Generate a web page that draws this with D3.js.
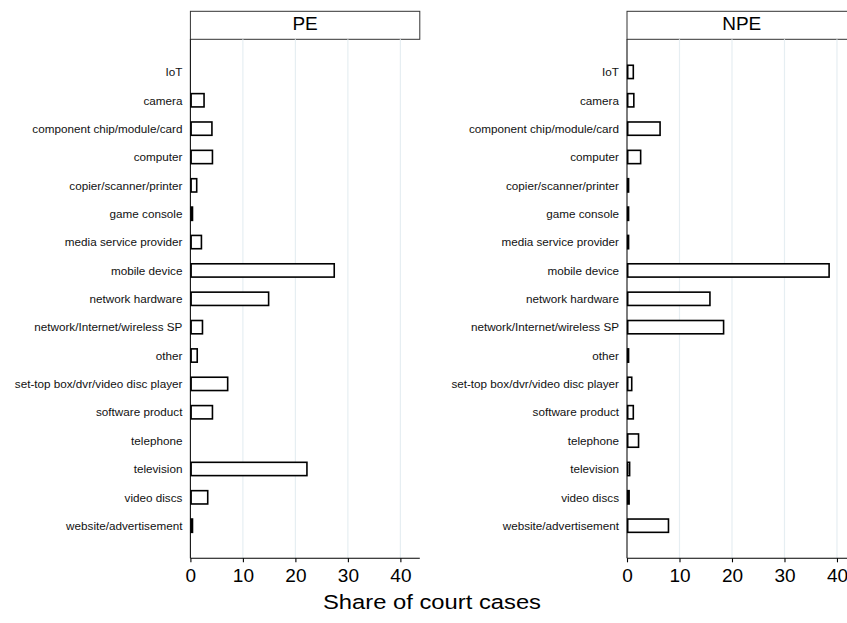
<!DOCTYPE html>
<html>
<head>
<meta charset="utf-8">
<script src="https://cdn.jsdelivr.net/npm/d3@7"></script>
<style>
  html, body { margin: 0; padding: 0; background: #fff; }
  svg { display: block; font-family: "Liberation Sans", Arial, sans-serif; }
</style>
</head>
<body>
<svg id="chart" width="847" height="623"></svg>
<script>
// Product categories (shared by both panels)
const categories = [
  "IoT", "camera", "component chip/module/card", "computer",
  "copier/scanner/printer", "game console", "media service provider",
  "mobile device", "network hardware", "network/Internet/wireless SP",
  "other", "set-top box/dvr/video disc player", "software product",
  "telephone", "television", "video discs", "website/advertisement"
];

// Share of court cases (%), practising entities
const peValues = [0, 2.6, 4.1, 4.2, 1.2, 0.4, 2.1, 27.4, 14.9, 2.3, 1.3, 7.1, 4.2, 0, 22.2, 3.3, 0.4];

// Share of court cases (%), non-practising entities
const npeValues = [1.2, 1.3, 6.3, 2.6, 0.3, 0.3, 0.3, 38.5, 15.8, 18.4, 0.3, 0.9, 1.2, 2.2, 0.5, 0.4, 7.9];

const panelTitles = ["PE", "NPE"];
const xTicks = [0, 10, 20, 30, 40];
const xTitle = "Share of court cases";

const svg = d3.select("#chart");

const panelWidth = 229.4;
const panelLefts = [190.4, 627.0];
const stripTop = 11.3, stripBottom = 39.3;
const plotBottom = 558.3;

const y = d3.scalePoint()
  .domain(categories)
  .range([stripBottom, plotBottom])
  .padding(1.15);

const barH = 13.3;

const panels = [peValues, npeValues];

panels.forEach((vals, pi) => {
  const left = panelLefts[pi];
  const x = d3.scaleLinear().domain([0, 43.7]).range([left, left + panelWidth]);
  const g = svg.append("g");

  // strip header
  g.append("rect")
    .attr("x", left).attr("y", stripTop)
    .attr("width", panelWidth).attr("height", stripBottom - stripTop)
    .attr("fill", "#fff").attr("stroke", "#333").attr("stroke-width", 1);
  g.append("text")
    .attr("x", left + panelWidth / 2).attr("y", stripTop + 18.3)
    .attr("text-anchor", "middle")
    .attr("font-size", 19).attr("fill", "#000")
    .text(panelTitles[pi]);

  // vertical gridlines
  g.selectAll("line.grid").data(xTicks.filter(t => t > 0)).enter()
    .append("line").attr("class", "grid")
    .attr("x1", d => x(d)).attr("x2", d => x(d))
    .attr("y1", stripBottom).attr("y2", plotBottom)
    .attr("stroke", "#e6eef2").attr("stroke-width", 1.2);

  // x axis
  const xAxis = d3.axisBottom(x).tickValues(xTicks).tickSize(4).tickPadding(6).tickSizeOuter(0);
  const ax = g.append("g").attr("transform", `translate(0,${plotBottom})`).call(xAxis);
  ax.select(".domain").attr("stroke", "#000").attr("stroke-width", 1.1)
    .attr("d", `M${left},0H${left + panelWidth}`);
  ax.selectAll(".tick line").attr("stroke", "#000").attr("stroke-width", 1.1);
  ax.selectAll(".tick text").attr("font-size", 19).attr("fill", "#000")
    .attr("font-family", "'Liberation Sans', Arial, sans-serif");

  // y axis (category labels, no ticks)
  const yAxis = d3.axisLeft(y).tickSize(0).tickPadding(8);
  const ay = g.append("g").attr("transform", `translate(${left},0)`).call(yAxis);
  ay.select(".domain").attr("stroke", "#111").attr("stroke-width", 1.1)
    .attr("d", `M0,${stripBottom}V${plotBottom}`);
  ay.selectAll(".tick text").attr("font-size", 11.7).attr("fill", "#111")
    .attr("font-family", "'Liberation Sans', Arial, sans-serif");

  // bars
  g.selectAll("rect.bar").data(categories.map((c, i) => ({ c, v: vals[i] })).filter(d => d.v > 0))
    .enter().append("rect").attr("class", "bar")
    .attr("x", x(0) + 0.7)
    .attr("y", d => y(d.c) - barH / 2)
    .attr("width", d => Math.max(0.01, x(d.v) - x(0) - 0.7))
    .attr("height", barH)
    .attr("fill", "#fff").attr("stroke", "#000").attr("stroke-width", 1.6);
});

// shared x-axis title (slightly widened lettering)
svg.append("text")
  .attr("transform", "translate(432,609) scale(1.16,1)")
  .attr("text-anchor", "middle")
  .attr("font-size", 20.5).attr("fill", "#000")
  .text(xTitle);
</script>
</body>
</html>
